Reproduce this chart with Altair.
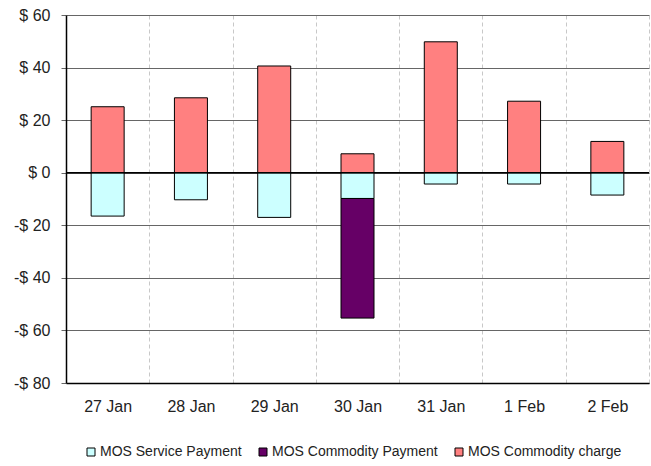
import altair as alt
import pandas as pd

# Daily MOS amounts ($)
days = ["27 Jan", "28 Jan", "29 Jan", "30 Jan", "31 Jan", "1 Feb", "2 Feb"]
service_payment = [-16.5, -10.3, -17.0, -9.8, -4.3, -4.3, -8.5]
commodity_payment = [0, 0, 0, -45.5, 0, 0, 0]
commodity_charge = [25.1, 28.5, 40.6, 7.2, 49.8, 27.2, 11.9]

series = ["MOS Service Payment", "MOS Commodity Payment", "MOS Commodity charge"]
colors = ["#CCFFFF", "#660066", "#FF8080"]
y_ticks = [-80, -60, -40, -20, 0, 20, 40, 60]

rows = []
for name, rank, vals in zip(series, [0, 1, 2],
                            [service_payment, commodity_payment, commodity_charge]):
    for d, v in zip(days, vals):
        if v != 0:
            rows.append({"day": d, "series": name, "rank": rank, "value": v})
df = pd.DataFrame(rows)

y_scale = alt.Scale(domain=[-80, 60], nice=False, zero=False)

bars = alt.Chart(df).mark_bar(size=33, stroke="black", strokeWidth=1).encode(
    x=alt.X(
        "day:N", sort=days,
        scale=alt.Scale(paddingInner=0, paddingOuter=0),
        axis=alt.Axis(
            title=None, labelAngle=0, tickBand="extent", ticks=False,
            grid=True, gridDash=[4, 3], gridColor="#c8c8c8", gridWidth=1,
            domain=True, domainColor="black", domainWidth=1.5,
            labelFontSize=16, labelPadding=15, labelColor="#222222",
        ),
    ),
    y=alt.Y(
        "value:Q", stack="zero", scale=y_scale,
        axis=alt.Axis(
            title=None, values=y_ticks,
            labelExpr="datum.value < 0 ? '-$ ' + abs(datum.value) : '$ ' + datum.value",
            grid=True, gridColor="#666666", gridWidth=1.2,
            domain=True, domainColor="black", domainWidth=1.5,
            tickColor="#666666", tickSize=5,
            labelFontSize=16, labelPadding=11, labelColor="#222222",
        ),
    ),
    color=alt.Color(
        "series:N",
        scale=alt.Scale(domain=series, range=colors),
        legend=alt.Legend(
            title=None, orient="none", direction="horizontal",
            legendX=18, legendY=430,
            symbolType="square", symbolSize=64,
            symbolStrokeColor="black", symbolStrokeWidth=1,
            labelFontSize=14, labelColor="#222222", labelOffset=2,
            labelLimit=400, columnPadding=14,
        ),
    ),
    order=alt.Order("rank:Q", sort="ascending"),
)

zero_line = alt.Chart(pd.DataFrame({"v": [0]})).mark_rule(
    color="black", strokeWidth=1.5
).encode(y=alt.Y("v:Q", scale=y_scale))

chart = alt.layer(bars, zero_line).properties(
    width=583, height=368,
    padding={"left": 66, "top": 15, "right": 2, "bottom": 83},
    autosize="none",
).configure(
    font="Liberation Sans",
).configure_view(stroke=None)

chart.save("out.html", embed_options={"renderer": "svg", "actions": False})
